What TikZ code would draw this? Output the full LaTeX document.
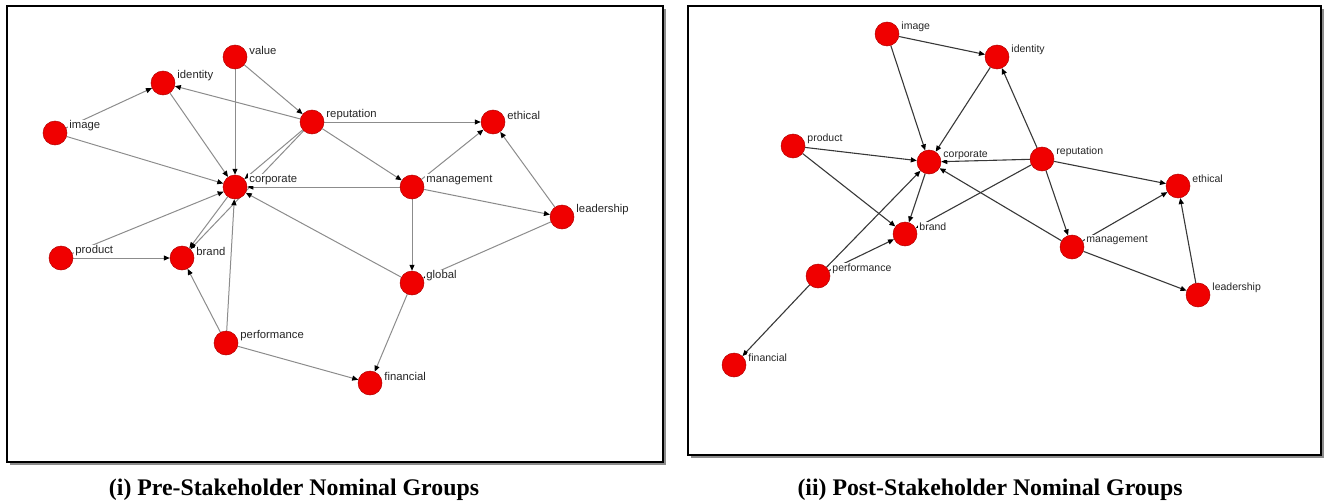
\documentclass[tikz,border=0pt]{standalone}
\usepackage{fontspec}
\setmainfont{Liberation Serif}
\newfontfamily\lblfont{Liberation Sans}
\usetikzlibrary{arrows.meta}
\pgfdeclarelayer{bg}
\pgfsetlayers{bg,main}
\definecolor{nodered}{RGB}{240,0,0}
\tikzset{
  vert/.style={circle, fill=nodered, draw=nodered!75!black, line width=0.5pt, minimum size=24pt, inner sep=0pt},
  lblL/.style={font=\lblfont\fontsize{11.3}{12}\selectfont, fill=white, inner sep=1pt, anchor=west, text=black!85},
  lblR/.style={font=\lblfont\fontsize{10.5}{11}\selectfont, fill=white, inner sep=1pt, anchor=west, text=black!85},
  eL/.style={draw=black!45, line width=1pt, -{Triangle[length=6pt,width=5pt,color=black]}},
  eR/.style={draw=black!78, line width=1.1pt, -{Triangle[length=6pt,width=5pt,color=black]}},
  framebox/.style={draw=black, line width=1.6pt},
  shadowline/.style={draw=black!45, line width=1.2pt},
  captext/.style={font=\bfseries\fontsize{23.8}{26}\selectfont, anchor=base, inner sep=0pt}
}
\newcommand\vtx[4]{\node[vert] (#1) at (#2) {};
  \node[#3] (#1-t) at ([xshift=1pt,yshift=7pt]#1.east) {#4};}
\begin{document}
\begin{tikzpicture}[x=1pt,y=-1pt]
\useasboundingbox (0,0) rectangle (1327,503);
% frames
\draw[shadowline] (10,464) -- (665,464) -- (665,9);
\draw[framebox] (7,6) rectangle (663,462);
\draw[shadowline] (691,457) -- (1323,457) -- (1323,9);
\draw[framebox] (688,6) rectangle (1321,455);
% ---------- left graph ----------
\vtx{L-value}{235,57}{lblL}{value}
\vtx{L-identity}{163,83}{lblL}{identity}
\vtx{L-image}{55,133}{lblL}{image}
\vtx{L-rep}{312,122}{lblL}{reputation}
\vtx{L-corp}{235,187}{lblL}{corporate}
\vtx{L-ethical}{493,122}{lblL}{ethical}
\vtx{L-mgmt}{412,187}{lblL}{management}
\vtx{L-lead}{562,217}{lblL}{leadership}
\vtx{L-product}{61,258}{lblL}{product}
\vtx{L-brand}{182,258}{lblL}{brand}
\vtx{L-perf}{226,343}{lblL}{performance}
\vtx{L-global}{412,283}{lblL}{global}
\vtx{L-fin}{370,383}{lblL}{financial}
\begin{pgfonlayer}{bg}
\draw[eL] (L-value) -- (L-corp);
\draw[eL] (L-value) -- (L-rep);
\draw[eL] (L-rep) -- (L-identity);
\draw[eL] (L-image) -- (L-identity);
\draw[eL] (L-image) -- (L-corp);
\draw[eL] (L-identity) -- (L-corp);
\draw[eL] (L-rep) -- (L-corp);
\draw[eL] (L-rep) -- (L-brand);
\draw[eL] (L-rep) -- (L-ethical);
\draw[eL] (L-rep) -- (L-mgmt);
\draw[eL] (L-mgmt) -- (L-corp);
\draw[eL] (L-mgmt) -- (L-ethical);
\draw[eL] (L-mgmt) -- (L-lead);
\draw[eL] (L-mgmt) -- (L-global);
\draw[eL] (L-lead) -- (L-ethical);
\draw[eL] (L-lead) -- (L-global);
\draw[eL] (L-global) -- (L-corp);
\draw[eL] (L-global) -- (L-fin);
\draw[eL] (L-perf) -- (L-fin);
\draw[eL] (L-perf) -- (L-brand);
\draw[eL] (L-perf) -- (L-corp);
\draw[eL] (L-product) -- (L-brand);
\draw[eL] (L-product) -- (L-corp);
\draw[eL] (L-corp) -- (L-brand);
\end{pgfonlayer}
% ---------- right graph ----------
\vtx{R-image}{887,34}{lblR}{image}
\vtx{R-identity}{997,57}{lblR}{identity}
\vtx{R-product}{793,146}{lblR}{product}
\vtx{R-corp}{929,162}{lblR}{corporate}
\vtx{R-brand}{905,234}{lblR}{brand}
\vtx{R-perf}{818,276}{lblR}{performance}
\vtx{R-fin}{734,365}{lblR}{financial}
\vtx{R-rep}{1042,159}{lblR}{reputation}
\vtx{R-ethical}{1178,186}{lblR}{ethical}
\vtx{R-mgmt}{1072,247}{lblR}{management}
\vtx{R-lead}{1198,295}{lblR}{leadership}
\begin{pgfonlayer}{bg}
\draw[eR] (R-image) -- (R-identity);
\draw[eR] (R-image) -- (R-corp);
\draw[eR] (R-identity) -- (R-corp);
\draw[eR] (R-rep) -- (R-identity);
\draw[eR] (R-product) -- (R-corp);
\draw[eR] (R-product) -- (R-brand);
\draw[eR] (R-rep) -- (R-corp);
\draw[eR] (R-rep) -- (R-brand);
\draw[eR] (R-rep) -- (R-ethical);
\draw[eR] (R-rep) -- (R-mgmt);
\draw[eR] (R-mgmt) -- (R-corp);
\draw[eR] (R-mgmt) -- (R-ethical);
\draw[eR] (R-mgmt) -- (R-lead);
\draw[eR] (R-lead) -- (R-ethical);
\draw[eR] (R-corp) -- (R-brand);
\draw[eR] (R-perf) -- (R-corp);
\draw[eR] (R-perf) -- (R-brand);
\draw[eR] (R-perf) -- (R-fin);
\end{pgfonlayer}
% captions
\node[captext] (capL) at (294,495) {(i) Pre-Stakeholder Nominal Groups};
\node[captext] (capR) at (990,495) {(ii) Post-Stakeholder Nominal Groups};
\end{tikzpicture}
\end{document}
